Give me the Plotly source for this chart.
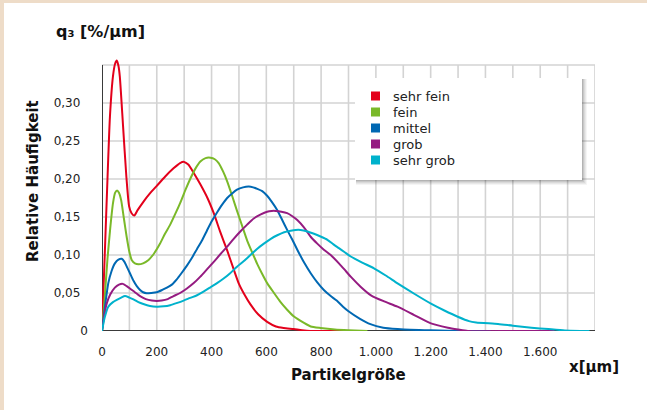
import plotly.graph_objects as go

# ---------------- data ----------------
series_names = ["sehr fein", "fein", "mittel", "grob", "sehr grob"]
series_colors = ["#E3001B", "#7AB929", "#0068B3", "#951B81", "#00B2CC"]

x_sehr_fein = [0, 10, 20, 29, 40, 48, 54, 60, 65, 77, 89, 99, 108, 118, 130, 151, 175, 200, 230, 261, 285, 300, 315, 335, 359, 385, 408, 432, 457, 480, 500, 520, 542, 570, 603, 635, 663, 700, 730, 760, 850, 940]
y_sehr_fein = [0.003, 0.10, 0.20, 0.282, 0.335, 0.352, 0.356, 0.349, 0.335, 0.269, 0.203, 0.164, 0.155, 0.152, 0.159, 0.170, 0.181, 0.191, 0.203, 0.214, 0.221, 0.2225, 0.219, 0.208, 0.193, 0.175, 0.155, 0.130, 0.106, 0.082, 0.062, 0.048, 0.035, 0.022, 0.012, 0.006, 0.004, 0.0025, 0.001, 0.0, 0.0, 0.0]

x_fein = [0, 10, 20, 30, 40, 48, 55, 62, 70, 80, 90, 100, 109, 120, 133, 150, 170, 190, 212, 230, 249, 270, 286, 305, 322, 340, 359, 378, 396, 412, 426, 442, 457, 475, 493, 512, 530, 550, 567, 585, 603, 628, 652, 676, 701, 736, 762, 798, 850, 900, 969]
y_fein = [0.0, 0.045, 0.095, 0.135, 0.168, 0.182, 0.185, 0.182, 0.172, 0.148, 0.124, 0.104, 0.093, 0.089, 0.0877, 0.089, 0.0934, 0.102, 0.115, 0.128, 0.140, 0.156, 0.169, 0.186, 0.200, 0.213, 0.223, 0.2275, 0.228, 0.226, 0.221, 0.210, 0.197, 0.178, 0.158, 0.138, 0.119, 0.102, 0.088, 0.075, 0.063, 0.050, 0.038, 0.028, 0.019, 0.011, 0.006, 0.004, 0.002, 0.001, 0.0]

x_mittel = [0, 10, 23, 35, 47, 60, 72, 82, 90, 102, 115, 127, 139, 150, 163, 180, 200, 220, 237, 255, 273, 290, 310, 328, 347, 365, 383, 400, 420, 438, 457, 475, 493, 515, 536, 552, 567, 585, 603, 620, 640, 658, 676, 695, 713, 738, 762, 786, 810, 835, 857, 880, 900, 942, 980, 1027, 1079, 1125, 1200, 1323, 1420]
y_mittel = [0.0, 0.030, 0.063, 0.079, 0.089, 0.094, 0.095, 0.091, 0.085, 0.076, 0.066, 0.059, 0.054, 0.051, 0.0496, 0.050, 0.051, 0.054, 0.057, 0.061, 0.068, 0.076, 0.086, 0.096, 0.108, 0.119, 0.132, 0.144, 0.156, 0.166, 0.175, 0.181, 0.186, 0.189, 0.190, 0.189, 0.187, 0.184, 0.178, 0.170, 0.159, 0.146, 0.133, 0.120, 0.107, 0.090, 0.076, 0.064, 0.054, 0.046, 0.040, 0.032, 0.026, 0.016, 0.009, 0.0044, 0.0025, 0.0015, 0.001, 0.0, 0.0]

x_grob = [0, 8, 17, 30, 47, 62, 76, 90, 102, 120, 139, 160, 182, 200, 218, 240, 261, 285, 310, 335, 359, 383, 408, 432, 457, 480, 505, 530, 554, 578, 603, 620, 634, 655, 676, 695, 713, 738, 762, 786, 810, 835, 865, 885, 908, 945, 982, 1030, 1079, 1140, 1201, 1263, 1300, 1336, 1500, 1652]
y_grob = [0.0, 0.020, 0.036, 0.048, 0.057, 0.061, 0.062, 0.059, 0.056, 0.051, 0.046, 0.042, 0.040, 0.0395, 0.040, 0.042, 0.046, 0.050, 0.056, 0.063, 0.0715, 0.081, 0.091, 0.101, 0.111, 0.121, 0.131, 0.140, 0.148, 0.153, 0.157, 0.158, 0.158, 0.157, 0.155, 0.151, 0.146, 0.136, 0.124, 0.115, 0.107, 0.100, 0.089, 0.081, 0.0715, 0.058, 0.047, 0.039, 0.032, 0.021, 0.010, 0.0044, 0.002, 0.0, 0.0, 0.0]

x_sehr_grob = [0, 10, 23, 40, 54, 70, 84, 100, 115, 133, 151, 175, 200, 225, 249, 275, 298, 322, 347, 372, 396, 420, 444, 468, 493, 518, 542, 566, 591, 615, 640, 665, 689, 707, 725, 750, 774, 800, 823, 845, 865, 885, 908, 950, 993, 1036, 1079, 1140, 1201, 1250, 1299, 1340, 1366, 1446, 1500, 1568, 1630, 1690, 1780]
y_sehr_grob = [0.0, 0.018, 0.032, 0.038, 0.041, 0.044, 0.046, 0.044, 0.0417, 0.038, 0.0355, 0.033, 0.032, 0.0325, 0.034, 0.037, 0.040, 0.0435, 0.047, 0.052, 0.0575, 0.063, 0.069, 0.076, 0.0846, 0.092, 0.100, 0.108, 0.115, 0.121, 0.126, 0.130, 0.132, 0.133, 0.133, 0.131, 0.128, 0.124, 0.120, 0.114, 0.109, 0.104, 0.098, 0.090, 0.0825, 0.073, 0.0627, 0.049, 0.036, 0.027, 0.0188, 0.013, 0.0113, 0.0092, 0.007, 0.0044, 0.0025, 0.0008, 0.0]

x_tickvals = [0, 200, 400, 600, 800, 1000, 1200, 1400, 1600]
x_ticktext = ["0", "200", "400", "600", "800", "1.000", "1.200", "1.400", "1.600"]
y_tickvals = [0, 0.05, 0.10, 0.15, 0.20, 0.25, 0.30]
y_ticktext = ["0", "0,05", "0,10", "0,15", "0,20", "0,25", "0,30"]

x_max = 1800
y_grid_max = 0.35

all_x = [x_sehr_fein, x_fein, x_mittel, x_grob, x_sehr_grob]
all_y = [y_sehr_fein, y_fein, y_mittel, y_grob, y_sehr_grob]

# ---------------- layout geometry (pixels) ----------------
W, H = 647, 410
L, R, T, B = 102, 52, 56, 79
PW, PH = W - L - R, H - T - B
Y0PX = H - B  # pixel row of y=0
BEIGE = "#EEDCC8"


def xp(px):
    return (px - L) / PW


def yp(py):
    return (Y0PX - py) / PH


y_range_top = y_grid_max * PH / 266.0

fig = go.Figure()

for name, color, xs, ys in zip(series_names, series_colors, all_x, all_y):
    fig.add_trace(go.Scatter(
        x=xs, y=ys, name=name, mode="lines",
        line=dict(color=color, width=2, shape="spline", smoothing=0.6),
        showlegend=False, hoverinfo="x+y+name",
    ))

shapes = []
# beige page edge (left and top)
shapes.append(dict(type="rect", xref="paper", yref="paper",
                   x0=xp(-5), x1=xp(4), y0=yp(H + 5), y1=yp(-5),
                   fillcolor=BEIGE, line=dict(width=0), layer="below"))
shapes.append(dict(type="rect", xref="paper", yref="paper",
                   x0=xp(-5), x1=xp(W + 5), y0=yp(3), y1=yp(-5),
                   fillcolor=BEIGE, line=dict(width=0), layer="below"))
# grid
grid_col = "#D3D3D3"
for gx in range(100, x_max + 1, 100):
    shapes.append(dict(type="line", xref="x", yref="y", x0=gx, x1=gx, y0=0, y1=y_grid_max,
                       line=dict(color=grid_col, width=1.6), layer="between"))
for k in range(1, 8):
    gy = round(0.05 * k, 2)
    shapes.append(dict(type="line", xref="x", yref="y", x0=0, x1=x_max, y0=gy, y1=gy,
                       line=dict(color=grid_col, width=1.6), layer="between"))
# axis lines
shapes.append(dict(type="line", xref="x", yref="y", x0=0, x1=0, y0=0, y1=y_grid_max,
                   line=dict(color="#3A3A3A", width=2), layer="between"))
shapes.append(dict(type="line", xref="x", yref="y", x0=0, x1=x_max, y0=0, y1=0,
                   line=dict(color="#3A3A3A", width=2), layer="between"))

# legend box with soft shadow
lx0, lx1, ly0, ly1 = 355, 582, 78, 180
for i, op in zip([5, 4, 3, 2, 1], [0.04, 0.05, 0.06, 0.08, 0.10]):
    shapes.append(dict(type="rect", xref="paper", yref="paper",
                       x0=xp(lx0 + 1), x1=xp(lx1 + i), y0=yp(ly1 + i), y1=yp(ly0 + 1),
                       fillcolor="rgba(0,0,0,%.2f)" % op, line=dict(width=0), layer="above"))
shapes.append(dict(type="rect", xref="paper", yref="paper",
                   x0=xp(lx0), x1=xp(lx1), y0=yp(ly1), y1=yp(ly0),
                   fillcolor="white", line=dict(width=0), layer="above"))

annotations = []
row0, row_step = 96, 16
for i, (name, color) in enumerate(zip(series_names, series_colors)):
    cy = row0 + i * row_step
    shapes.append(dict(type="rect", xref="paper", yref="paper",
                       x0=xp(371), x1=xp(380), y0=yp(cy + 4.5), y1=yp(cy - 4.5),
                       fillcolor=color, line=dict(width=0), layer="above"))
    annotations.append(dict(text=name, xref="paper", yref="paper", x=xp(391), y=yp(cy),
                            xanchor="left", yanchor="middle", showarrow=False,
                            font=dict(family="DejaVu Sans", size=13, color="#222222")))

bold = dict(family="DejaVu Sans", size=15, color="#111111")
annotations.append(dict(text="<b>q₃ [%/µm]</b>", xref="paper", yref="paper",
                        x=xp(54), y=yp(31), xanchor="left", yanchor="middle",
                        showarrow=False, font=dict(family="DejaVu Sans", size=16, color="#111111")))
annotations.append(dict(text="<b>Relative Häufigkeit</b>", xref="paper", yref="paper",
                        x=xp(33), y=yp(181), xanchor="center", yanchor="middle",
                        textangle=-90, showarrow=False, font=bold))
annotations.append(dict(text="<b>Partikelgröße</b>", xref="paper", yref="paper",
                        x=xp(348), y=yp(375), xanchor="center", yanchor="middle",
                        showarrow=False, font=bold))
annotations.append(dict(text="<b>x[µm]</b>", xref="paper", yref="paper",
                        x=xp(567), y=yp(367), xanchor="left", yanchor="middle",
                        showarrow=False, font=bold))

y_ticktext_padded = [t if t == "0" else t + "\u00a0\u00a0" for t in y_ticktext]

fig.update_layout(
    width=W, height=H,
    margin=dict(l=L, r=R, t=T, b=B, pad=0),
    paper_bgcolor="white",
    plot_bgcolor="white",
    showlegend=False,
    shapes=shapes,
    annotations=annotations,
    xaxis=dict(range=[0, x_max], showgrid=False, zeroline=False, showline=False,
               tickmode="array", tickvals=x_tickvals, ticktext=x_ticktext,
               ticks="", ticklabelstandoff=12,
               tickfont=dict(family="DejaVu Sans", size=12, color="#222222")),
    yaxis=dict(range=[0, y_range_top], showgrid=False, zeroline=False, showline=False,
               tickmode="array", tickvals=y_tickvals, ticktext=y_ticktext_padded,
               ticks="", ticklabelstandoff=13,
               tickfont=dict(family="DejaVu Sans", size=12, color="#222222")),
)

fig.write_html(
    "out.html",
    config={"displayModeBar": False},
    post_script="document.body.style.margin='0px';document.body.style.padding='0px';"
                "document.body.style.overflow='hidden';",
)
